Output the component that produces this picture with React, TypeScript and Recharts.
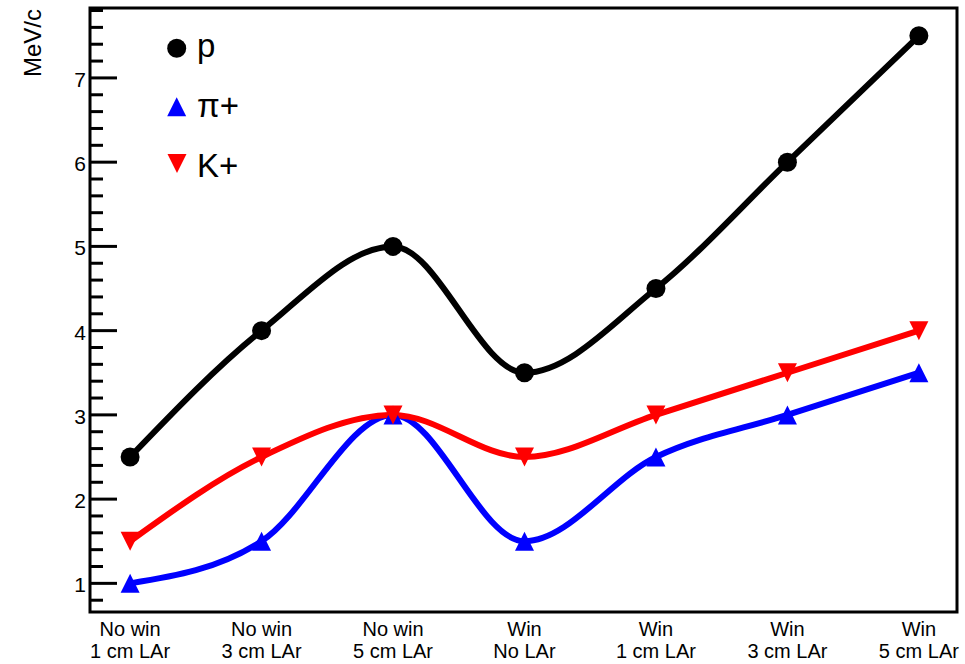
import React from 'react';
import { LineChart, Line, XAxis, YAxis, ReferenceArea, Legend } from 'recharts';

const catLine1 = ['No win', 'No win', 'No win', 'Win', 'Win', 'Win', 'Win'];
const catLine2 = ['1 cm LAr', '3 cm LAr', '5 cm LAr', 'No LAr', '1 cm LAr', '3 cm LAr', '5 cm LAr'];
const pValues = [2.5, 4, 5, 3.5, 4.5, 6, 7.5];
const piValues = [1, 1.5, 3, 1.5, 2.5, 3, 3.5];
const kValues = [1.5, 2.5, 3, 2.5, 3, 3.5, 4];
const yMajorTicks = [1, 2, 3, 4, 5, 6, 7];
const yMinorTicks = [0.8, 1.2, 1.4, 1.6, 1.8, 2.2, 2.4, 2.6, 2.8, 3.2, 3.4, 3.6, 3.8, 4.2, 4.4, 4.6, 4.8, 5.2, 5.4, 5.6, 5.8, 6.2, 6.4, 6.6, 6.8, 7.2, 7.4, 7.6, 7.8];
const xTicks = [0, 1, 2, 3, 4, 5, 6];
const yTitle = 'MeV/c';
const seriesNames = ['p', 'π+', 'K+'];

const FONT = '"Liberation Sans", Arial, Helvetica, sans-serif';

const data = catLine1.map((_, i) => ({ x: i, p: pValues[i], pi: piValues[i], k: kValues[i] }));
const yTicks = [...yMajorTicks, ...yMinorTicks].sort((a, b) => a - b);

const YTick = (props: any) => {
  const { x, y, payload } = props;
  const v = payload.value;
  const major = yMajorTicks.includes(v);
  return (
    <g>
      <line x1={x} x2={x + (major ? 27 : 13)} y1={y} y2={y} stroke="#000" strokeWidth={3} />
      {major && (
        <text x={x - 4} y={y + 9} textAnchor="end" fontSize={21} fontFamily={FONT} fill="#000">
          {v}
        </text>
      )}
    </g>
  );
};

const XTick = (props: any) => {
  const { x, y, payload } = props;
  const i = payload.value;
  return (
    <g>
      <text x={x} y={y + 24} textAnchor="middle" fontSize={20} fontFamily={FONT} fill="#000">
        {catLine1[i]}
      </text>
      <text x={x} y={y + 46} textAnchor="middle" fontSize={20} fontFamily={FONT} fill="#000">
        {catLine2[i]}
      </text>
    </g>
  );
};

const triUp = (cx: number, cy: number, s: number) =>
  `M${cx},${cy - s / 2} L${cx + s / 2},${cy + s / 2} L${cx - s / 2},${cy + s / 2} Z`;
const triDown = (cx: number, cy: number, s: number) =>
  `M${cx},${cy + s / 2} L${cx + s / 2},${cy - s / 2} L${cx - s / 2},${cy - s / 2} Z`;

const CircleDot = (props: any) => {
  const { cx, cy } = props;
  if (cx == null || cy == null) return null;
  return <circle cx={cx} cy={cy} r={9.5} fill="#000" />;
};
const UpDot = (props: any) => {
  const { cx, cy } = props;
  if (cx == null || cy == null) return null;
  return <path d={triUp(cx, cy, 19)} fill="#0000ff" />;
};
const DownDot = (props: any) => {
  const { cx, cy } = props;
  if (cx == null || cy == null) return null;
  return <path d={triDown(cx, cy, 19)} fill="#ff0000" />;
};

const LegendContent = () => (
  <svg width={130} height={180} style={{ display: 'block' }}>
    <circle cx={26.7} cy={28.3} r={9.5} fill="#000" />
    <text x={47} y={37} fontSize={33} fontFamily={FONT} fill="#000">{seriesNames[0]}</text>
    <path d={triUp(26.7, 86.7, 19)} fill="#0000ff" />
    <text x={47} y={97} fontSize={33} fontFamily={FONT} fill="#000">{seriesNames[1]}</text>
    <path d={triDown(27, 143.5, 19)} fill="#ff0000" />
    <text x={47} y={157} fontSize={33} fontFamily={FONT} fill="#000">{seriesNames[2]}</text>
  </svg>
);

const YTitle = () => (
  <text
    x={41}
    y={9}
    transform="rotate(-90, 41, 9)"
    textAnchor="end"
    fontSize={24}
    fontFamily={FONT}
    fill="#000"
  >
    {yTitle}
  </text>
);

export default function App() {
  return (
    <div style={{ position: 'absolute', left: 0, top: 0, background: '#fff' }}>
      <LineChart width={965} height={664} data={data} margin={{ top: 8, right: 8, left: 0, bottom: 0 }}>
        <XAxis
          type="number"
          dataKey="x"
          domain={[-0.305, 6.29]}
          ticks={xTicks}
          interval={0}
          tick={<XTick />}
          tickLine={false}
          axisLine={false}
          tickSize={0}
          tickMargin={0}
          height={52}
          allowDataOverflow
        />
        <YAxis
          type="number"
          domain={[0.66, 7.83]}
          ticks={yTicks}
          interval={0}
          tick={<YTick />}
          tickLine={false}
          axisLine={false}
          tickSize={0}
          tickMargin={0}
          width={90}
          allowDataOverflow
          label={{ content: <YTitle /> }}
        />
        <ReferenceArea
          x1={-0.305}
          x2={6.29}
          y1={0.66}
          y2={7.83}
          fill="none"
          fillOpacity={0}
          stroke="#000"
          strokeWidth={3}
          ifOverflow="extendDomain"
        />
        <Line type="monotone" dataKey="p" stroke="#000" strokeWidth={6} dot={<CircleDot />} activeDot={false} isAnimationActive={false} />
        <Line type="monotone" dataKey="pi" stroke="#0000ff" strokeWidth={6} dot={<UpDot />} activeDot={false} isAnimationActive={false} />
        <Line type="monotone" dataKey="k" stroke="#ff0000" strokeWidth={6} dot={<DownDot />} activeDot={false} isAnimationActive={false} />
        <Legend
          layout="horizontal"
          verticalAlign="middle"
          align="center"
          content={<LegendContent />}
          wrapperStyle={{ left: 150, top: 20, width: 130, height: 180 }}
        />
      </LineChart>
    </div>
  );
}
